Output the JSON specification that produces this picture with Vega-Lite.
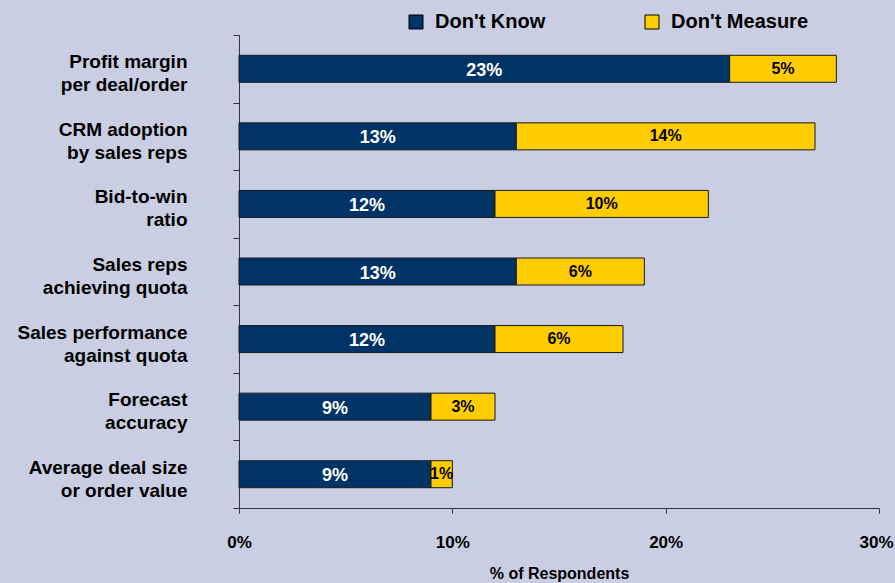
{
  "$schema": "https://vega.github.io/schema/vega-lite/v6.json",
  "autosize": {"type": "none"},
  "width": 640,
  "height": 473,
  "padding": {"left": 239, "top": 35, "right": 16, "bottom": 75},
  "background": "#C9CEE2",
  "config": {
    "view": {"stroke": null},
    "font": "Liberation Sans"
  },
  "data": {
    "values": [
      {"metric": "Profit margin|per deal/order", "type": "Don't Know", "value": 0.23},
      {"metric": "Profit margin|per deal/order", "type": "Don't Measure", "value": 0.05},
      {"metric": "CRM adoption|by sales reps", "type": "Don't Know", "value": 0.13},
      {"metric": "CRM adoption|by sales reps", "type": "Don't Measure", "value": 0.14},
      {"metric": "Bid-to-win|ratio", "type": "Don't Know", "value": 0.12},
      {"metric": "Bid-to-win|ratio", "type": "Don't Measure", "value": 0.10},
      {"metric": "Sales reps|achieving quota", "type": "Don't Know", "value": 0.13},
      {"metric": "Sales reps|achieving quota", "type": "Don't Measure", "value": 0.06},
      {"metric": "Sales performance|against quota", "type": "Don't Know", "value": 0.12},
      {"metric": "Sales performance|against quota", "type": "Don't Measure", "value": 0.06},
      {"metric": "Forecast|accuracy", "type": "Don't Know", "value": 0.09},
      {"metric": "Forecast|accuracy", "type": "Don't Measure", "value": 0.03},
      {"metric": "Average deal size|or order value", "type": "Don't Know", "value": 0.09},
      {"metric": "Average deal size|or order value", "type": "Don't Measure", "value": 0.01}
    ]
  },
  "transform": [
    {"stack": "value", "groupby": ["metric"], "sort": [{"field": "type", "order": "ascending"}], "as": ["v0", "v1"]},
    {"calculate": "(datum.v0 + datum.v1) / 2", "as": "mid"}
  ],
  "encoding": {
    "y": {
      "field": "metric",
      "type": "nominal",
      "sort": null,
      "scale": {"type": "band", "paddingInner": 0, "paddingOuter": 0},
      "axis": {
        "title": null,
        "labelExpr": "split(datum.label, '|')",
        "labelFontSize": 19,
        "labelFontWeight": "bold",
        "labelColor": "#000000",
        "labelLineHeight": 23,
        "labelAlign": "right",
        "labelPadding": 46,
        "labelOffset": -7,
        "tickBand": "extent",
        "tickSize": 6,
        "tickColor": "#333333",
        "domainColor": "#333333",
        "labelLimit": 300
      }
    }
  },
  "layer": [
    {
      "mark": {"type": "bar", "size": 27, "stroke": "#1a1a1a", "strokeWidth": 1},
      "encoding": {
        "x": {
          "field": "v0",
          "type": "quantitative",
          "scale": {"domain": [0, 0.3], "nice": false},
          "axis": {
            "title": "% of Respondents",
            "titleFontSize": 16,
            "titleFontWeight": "bold",
            "titleColor": "#000000",
            "titlePadding": 15,
            "values": [0, 0.1, 0.2, 0.3],
            "format": ".0%",
            "grid": false,
            "labelFontSize": 17,
            "labelFontWeight": "bold",
            "labelColor": "#000000",
            "labelPadding": 21,
            "labelFlush": false,
            "labelOffset": {"condition": {"test": "datum.value >= 0.3", "value": -3}, "value": 0},
            "tickSize": 5,
            "tickColor": "#333333",
            "domainColor": "#333333"
          }
        },
        "x2": {"field": "v1"},
        "color": {
          "field": "type",
          "type": "nominal",
          "scale": {"domain": ["Don't Know", "Don't Measure"], "range": ["#003366", "#FFCC00"]},
          "legend": {
            "title": null,
            "orient": "none",
            "direction": "horizontal",
            "legendX": 167,
            "legendY": -23,
            "symbolType": "square",
            "symbolSize": 196,
            "symbolStrokeColor": "#000000",
            "symbolStrokeWidth": 1,
            "symbolOpacity": 1,
            "labelFontSize": 20,
            "labelFontWeight": "bold",
            "labelColor": "#000000",
            "labelOffset": 9,
            "columnPadding": 96
          }
        }
      }
    },
    {
      "transform": [{"filter": "datum.type == \"Don't Know\""}],
      "mark": {"type": "text", "color": "#ffffff", "fontSize": 18, "fontWeight": "bold", "baseline": "middle", "dy": 2},
      "encoding": {
        "x": {"field": "mid", "type": "quantitative"},
        "text": {"field": "value", "type": "quantitative", "format": ".0%"}
      }
    },
    {
      "transform": [{"filter": "datum.type == \"Don't Measure\""}],
      "mark": {"type": "text", "color": "#000000", "fontSize": 16, "fontWeight": "bold", "baseline": "middle"},
      "encoding": {
        "x": {"field": "mid", "type": "quantitative"},
        "text": {"field": "value", "type": "quantitative", "format": ".0%"}
      }
    }
  ]
}
